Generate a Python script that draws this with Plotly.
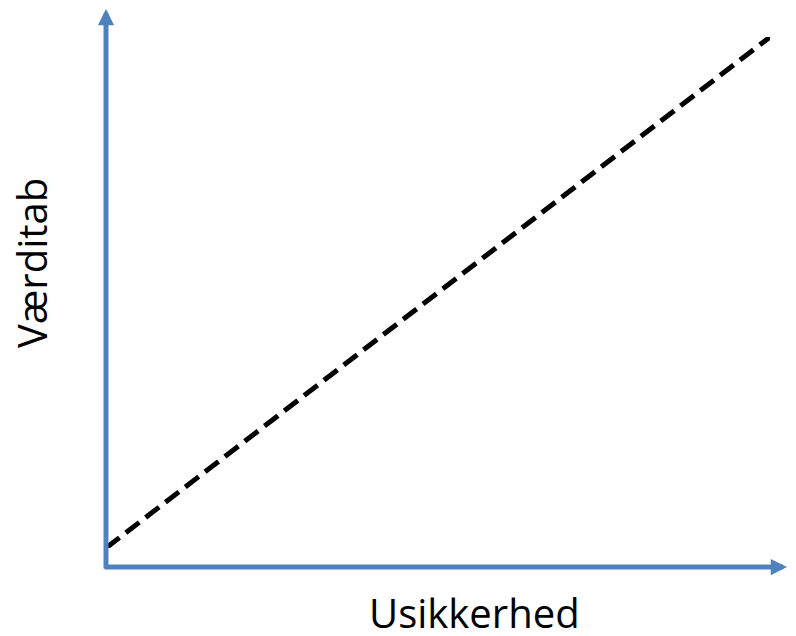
import plotly.graph_objects as go

# Data: a straight, linearly rising relation (uncertainty -> value loss)
uncertainty = [0, 1]
value_loss = [0, 1]

x_label = "Usikkerhed"
y_label = "Værditab"

AXIS_COLOR = "#4F81BD"
FONT = "Open Sans, Lato, sans-serif"

fig = go.Figure()

fig.add_trace(go.Scatter(
    x=uncertainty,
    y=value_loss,
    mode="lines",
    line=dict(color="black", width=5, dash="17px,8px"),
    hoverinfo="skip",
    showlegend=False,
))

# page body has an 8px margin, so the figure is drawn shifted by it
OFF = 8
W, H = 796 - 2 * OFF, 636 - 2 * OFF
# plot area in window pixels: left 106, right 770, top 37, bottom 548
L, T = 106 - OFF, 37 - OFF
R = W - (770 - OFF)
B = H - (548 - OFF)
pw, ph = W - L - R, H - T - B


def px(xp):
    return (xp - OFF - L) / pw


def py(yp):
    return (H - B - (yp - OFF)) / ph


annotations = [
    # y axis arrow
    dict(x=px(106), y=py(9), xref="paper", yref="paper",
         ax=0, ay=561, showarrow=True, arrowhead=2, arrowsize=0.65,
         arrowwidth=5, arrowcolor=AXIS_COLOR, text=""),
    # x axis arrow
    dict(x=px(794), y=py(567), xref="paper", yref="paper",
         ax=-691, ay=0, showarrow=True, arrowhead=2, arrowsize=0.65,
         arrowwidth=5, arrowcolor=AXIS_COLOR, text=""),
    dict(x=px(474), y=py(612), xref="paper", yref="paper",
         text=x_label, showarrow=False,
         font=dict(family=FONT, size=40, color="black"),
         xanchor="center", yanchor="middle"),
    dict(x=px(31), y=py(263), xref="paper", yref="paper",
         text=y_label, showarrow=False, textangle=-90,
         font=dict(family=FONT, size=40, color="black"),
         xanchor="center", yanchor="middle"),
]

fig.update_layout(
    width=W, height=H,
    margin=dict(l=L, r=R, t=T, b=B, pad=0),
    paper_bgcolor="white",
    plot_bgcolor="white",
    xaxis=dict(range=[0, 1], visible=False, fixedrange=True),
    yaxis=dict(range=[0, 1], visible=False, fixedrange=True),
    annotations=annotations,
    showlegend=False,
)

fig.write_html("out.html")
